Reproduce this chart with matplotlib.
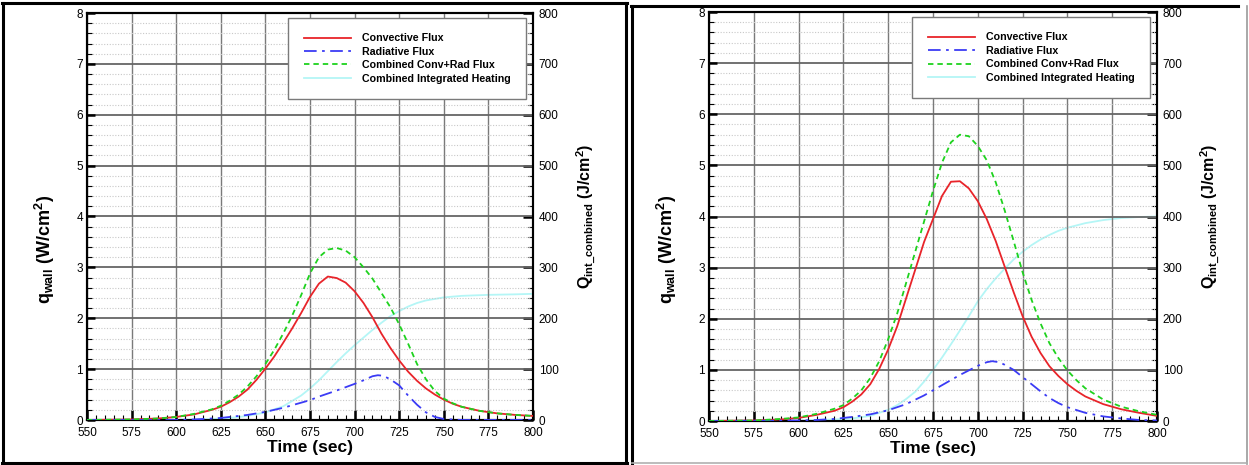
import matplotlib
matplotlib.use("Agg")
import matplotlib.pyplot as plt
from matplotlib.lines import Line2D
from matplotlib.ticker import MultipleLocator

plt.rcParams['font.family'] = ['Liberation Sans', 'DejaVu Sans']
plt.rcParams['mathtext.fontset'] = 'custom'
plt.rcParams['mathtext.rm'] = 'Liberation Sans:bold'
plt.rcParams['mathtext.it'] = 'Liberation Sans:bold'
plt.rcParams['mathtext.bf'] = 'Liberation Sans:bold'

# ---- Case A (left) ----
t_a = [550, 575, 590, 600, 610, 620, 625, 630, 635, 640, 645, 650, 655, 660, 665,
       670, 675, 680, 685, 690, 695, 700, 705, 710, 715, 720, 725, 730, 735, 740,
       745, 750, 755, 760, 770, 780, 790, 800]
conv_a = [0.0, 0.01, 0.03, 0.06, 0.11, 0.20, 0.26, 0.35, 0.46, 0.60, 0.79, 1.01, 1.25,
          1.52, 1.80, 2.10, 2.42, 2.68, 2.82, 2.79, 2.70, 2.53, 2.30, 2.02, 1.70, 1.42,
          1.17, 0.95, 0.77, 0.62, 0.50, 0.40, 0.32, 0.26, 0.18, 0.13, 0.10, 0.08]
comb_a = [0.0, 0.01, 0.03, 0.06, 0.12, 0.21, 0.28, 0.38, 0.50, 0.66, 0.86, 1.10, 1.38,
          1.70, 2.05, 2.45, 2.88, 3.20, 3.35, 3.38, 3.33, 3.20, 3.00, 2.78, 2.50, 2.22,
          1.88, 1.50, 1.10, 0.80, 0.57, 0.42, 0.33, 0.26, 0.18, 0.13, 0.10, 0.08]
trad_a = [550, 600, 610, 620, 625, 630, 640, 650, 660, 670, 675, 680, 690, 700, 705,
          710, 713, 716, 720, 725, 730, 735, 740, 745, 750, 760, 800]
rad_a = [0.0, 0.0, 0.01, 0.03, 0.04, 0.06, 0.10, 0.16, 0.24, 0.34, 0.39, 0.46, 0.58,
         0.71, 0.78, 0.86, 0.88, 0.87, 0.80, 0.68, 0.48, 0.30, 0.15, 0.06, 0.02, 0.0, 0.0]
tint_a = [550, 600, 610, 620, 630, 640, 650, 660, 670, 675, 680, 685, 690, 695, 700,
          705, 710, 715, 720, 725, 730, 735, 740, 750, 760, 775, 790, 800]
qint_a = [0, 0.5, 1, 2, 4, 8, 15, 27, 48, 62, 78, 96, 114, 131, 147, 162, 177, 191,
          204, 214, 223, 230, 235, 241, 244, 246, 247, 248]

# ---- Case B (right) ----
t_b = [550, 575, 590, 600, 610, 620, 625, 630, 635, 640, 645, 650, 655, 660, 665,
       670, 675, 680, 685, 690, 695, 700, 705, 710, 715, 720, 725, 730, 735, 740,
       745, 750, 755, 760, 770, 780, 790, 800]
conv_b = [0.0, 0.01, 0.03, 0.06, 0.12, 0.20, 0.27, 0.38, 0.52, 0.72, 1.02, 1.40, 1.85,
          2.40, 2.95, 3.50, 3.95, 4.40, 4.68, 4.69, 4.55, 4.30, 3.95, 3.52, 3.02, 2.52,
          2.05, 1.65, 1.33, 1.07, 0.88, 0.72, 0.59, 0.48, 0.33, 0.23, 0.16, 0.10]
comb_b = [0.0, 0.01, 0.04, 0.07, 0.14, 0.24, 0.31, 0.44, 0.60, 0.84, 1.17, 1.60, 2.10,
          2.70, 3.30, 3.90, 4.50, 5.05, 5.45, 5.60, 5.57, 5.38, 5.10, 4.67, 4.12, 3.52,
          2.91, 2.37, 1.91, 1.52, 1.23, 0.99, 0.80, 0.64, 0.42, 0.28, 0.19, 0.12]
trad_b = [550, 600, 610, 620, 630, 640, 650, 660, 670, 675, 680, 690, 700, 705, 708,
          712, 715, 720, 725, 730, 735, 740, 745, 750, 760, 770, 780, 790, 800]
rad_b = [0.0, 0.01, 0.02, 0.04, 0.08, 0.13, 0.21, 0.33, 0.50, 0.60, 0.70, 0.90, 1.08,
         1.15, 1.17, 1.15, 1.10, 1.00, 0.86, 0.72, 0.58, 0.45, 0.35, 0.27, 0.16, 0.09,
         0.05, 0.02, 0.01]
tint_b = [550, 600, 610, 620, 630, 640, 650, 655, 660, 665, 670, 675, 680, 685, 690,
          695, 700, 705, 710, 715, 720, 725, 730, 735, 740, 745, 750, 760, 770, 780,
          790, 800]
qint_b = [0, 1, 2, 3, 5, 10, 22, 31, 43, 57, 77, 100, 124, 150, 177, 205, 234, 258,
          279, 298, 316, 331, 344, 355, 364, 372, 378, 387, 393, 397, 399, 400]

x_ticks = [550, 575, 600, 625, 650, 675, 700, 725, 750, 775, 800]

C_CONV = '#e8242a'
C_RAD = '#3b3bf5'
C_COMB = '#1ed21e'
C_INT = '#b4f6f6'

fig = plt.figure(figsize=(12.49, 4.65), dpi=100)
W, H = 1249, 465


def fx(px):
    return px / W


def fy(py):
    return 1 - py / H


def panel(rect, t, conv, trad, rad, comb, tint, qint):
    ax = fig.add_axes(rect)
    ax.set_xlim(550, 800)
    ax.set_ylim(0, 8)
    ax.set_xticks(x_ticks)
    ax.xaxis.set_minor_locator(MultipleLocator(5))
    ax.yaxis.set_major_locator(MultipleLocator(1))
    ax.yaxis.set_minor_locator(MultipleLocator(0.2))
    ax.grid(True, which='major', axis='x', color='#7a7a7a', lw=1.0)
    ax.grid(True, which='major', axis='y', color='#666666', lw=1.3)
    ax.grid(True, which='minor', axis='y', color='#c8c8c8', lw=0.8, ls=(0, (1, 1.5)))
    ax.set_axisbelow(True)
    ax.tick_params(which='major', direction='in', length=7, width=1.8,
                   labelsize=8.5, pad=3, top=False, right=False)
    ax.tick_params(which='minor', direction='in', length=3.5, width=0.8,
                   top=False, right=False)
    ax.tick_params(axis='y', which='major', length=6)
    ax.tick_params(axis='x', which='major', pad=5)
    for s in ax.spines.values():
        s.set_linewidth(1.5)

    l1, = ax.plot(t, conv, color=C_CONV, lw=1.3, label='Convective Flux', zorder=4)
    l2, = ax.plot(trad, rad, color=C_RAD, lw=1.3, ls=(0, (7, 3, 1.5, 3)),
                  label='Radiative Flux', zorder=4)
    l3, = ax.plot(t, comb, color=C_COMB, lw=1.3, ls=(0, (3, 2.2)),
                  label='Combined Conv+Rad Flux', zorder=5)

    ax2 = ax.twinx()
    ax2.set_ylim(0, 800)
    ax2.yaxis.set_major_locator(MultipleLocator(100))
    ax2.yaxis.set_minor_locator(MultipleLocator(20))
    ax2.tick_params(which='major', direction='in', length=7, width=1.8,
                    labelsize=8.5, pad=4)
    ax2.tick_params(which='minor', direction='in', length=3.5, width=0.8)
    for s in ax2.spines.values():
        s.set_linewidth(1.5)
    l4, = ax2.plot(tint, qint, color=C_INT, lw=1.3,
                   label='Combined Integrated Heating', zorder=3)
    ax.set_zorder(ax2.get_zorder() + 1)
    ax.patch.set_visible(False)

    ax.set_xlabel('Time (sec)', fontsize=12.5, fontweight='bold', labelpad=1)
    ax.set_ylabel(r'q$_{wall}$ (W/cm$^{2}$)', fontsize=13, fontweight='bold')
    ax.yaxis.set_label_coords(-0.068, 0.42)
    ax2.set_ylabel(r'Q$_{int\_combined}$ (J/cm$^{2}$)', fontsize=11.5,
                   fontweight='bold', labelpad=12)

    leg = ax.legend(handles=[l1, l2, l3, l4], loc='upper right',
                    bbox_to_anchor=(0.984, 0.988),
                    prop={'weight': 'bold', 'size': 7.7},
                    handlelength=4.4, handletextpad=1.0, labelspacing=0.32,
                    borderpad=1.45, borderaxespad=0, fancybox=False,
                    framealpha=1, edgecolor='#7a7a7a')
    leg.get_frame().set_linewidth(1.0)
    return ax


panel([fx(87), fy(420), fx(533 - 87), (420 - 13) / H],
      t_a, conv_a, trad_a, rad_a, comb_a, tint_a, qint_a)
panel([fx(709), fy(421), fx(1157 - 709), (421 - 12) / H],
      t_b, conv_b, trad_b, rad_b, comb_b, tint_b, qint_b)


# Panel frames
def seg(x0, y0, x1, y1, color, lw):
    fig.add_artist(Line2D([fx(x0), fx(x1)], [fy(y0), fy(y1)], color=color, lw=lw,
                          transform=fig.transFigure))


seg(2, 3, 627, 3, 'black', 2.2)
seg(2, 463, 627, 463, 'black', 2.2)
seg(3, 3, 3, 463, 'black', 2.2)
seg(626, 3, 626, 463, 'black', 2.2)

seg(631, 6, 1238, 6, 'black', 2.2)
seg(632, 6, 632, 464, 'black', 2.2)
seg(1247, 6, 1247, 464, '#9a9a9a', 1.2)
seg(632, 463, 1247, 463, '#b0b0b0', 1.2)

fig.savefig('out.png', dpi=100)
